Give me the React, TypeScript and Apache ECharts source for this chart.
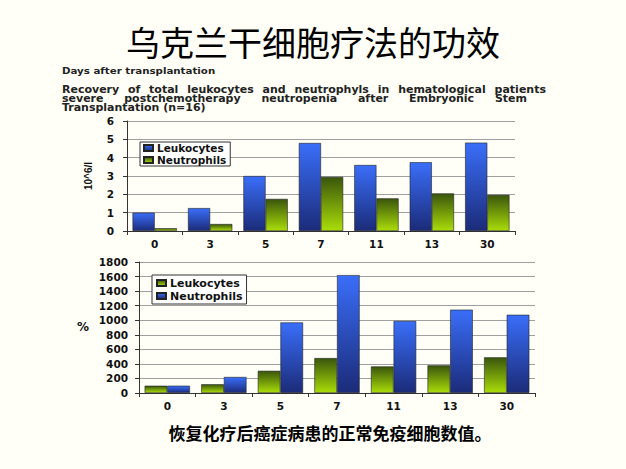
import React, { useEffect, useRef } from "react";
import * as echarts from "echarts";

const days = ["0", "3", "5", "7", "11", "13", "30"];
const topLeukocytes = [1.0, 1.25, 3.0, 4.8, 3.6, 3.75, 4.82];
const topNeutrophils = [0.15, 0.38, 1.75, 2.95, 1.78, 2.05, 1.97];
const pctLeukocytes = [100, 120, 305, 480, 365, 380, 490];
const pctNeutrophils = [100, 220, 970, 1620, 990, 1145, 1075];

const paraLine1 = ["Recovery", "of", "total", "leukocytes", "and", "neutrophyls", "in", "hematological", "patients"];
const paraLine2 = ["severe", "postchemotherapy", "neutropenia", "after", "Embryonic", "Stem"];
const paraLine3 = "Transplantation (n=16)";

const blueGrad = () =>
  new echarts.graphic.LinearGradient(0, 0, 0, 1, [
    { offset: 0, color: "#3a6ef9" },
    { offset: 1, color: "#1b2b78" },
  ]);
const greenGrad = () =>
  new echarts.graphic.LinearGradient(0, 0, 0, 1, [
    { offset: 0, color: "#3a560c" },
    { offset: 1, color: "#aadd08" },
  ]);

const axisFont = { fontFamily: "DejaVu Sans", fontWeight: "bold" as const, fontSize: 10.5, color: "#111" };
const PARA_SIZE = 10;
const PARA_SCALE = 1.1;

export default function App() {
  const ref = useRef<HTMLDivElement>(null);
  useEffect(() => {
    document.body.style.margin = "0";
    const chart = echarts.init(ref.current!, null, { renderer: "svg" });
    const ctx = document.createElement("canvas").getContext("2d")!;
    ctx.font = `bold ${PARA_SIZE}px 'DejaVu Sans'`;
    const paraText = (t: string, x: number, y: number) => ({
      type: "text",
      x,
      y,
      scaleX: PARA_SCALE,
      style: { text: t, fontFamily: "DejaVu Sans", fontWeight: "bold", fontSize: PARA_SIZE, fill: "#222", verticalAlign: "middle" },
    });
    // justified line: words spread evenly between x0 and x1
    const justify = (words: string[], x0: number, x1: number, y: number) => {
      const widths = words.map((w) => ctx.measureText(w).width * PARA_SCALE);
      const total = widths.reduce((a, b) => a + b, 0);
      const gap = (x1 - x0 - total) / (words.length - 1);
      let x = x0;
      return words.map((w, i) => {
        const el = paraText(w, x, y);
        x += widths[i] + gap;
        return el;
      });
    };
    const xAxisBase = {
      type: "category",
      data: days,
      axisLine: { lineStyle: { color: "#333" } },
      axisTick: { show: true, length: 4, lineStyle: { color: "#333" } },
      axisLabel: { ...axisFont, margin: 7 },
    };
    const yAxisBase = {
      type: "value",
      axisLine: { show: true, lineStyle: { color: "#333" } },
      axisTick: { show: true, length: 4, lineStyle: { color: "#333" } },
      splitLine: { lineStyle: { color: "#a0a0a0" } },
    };
    const barStyle = (c: any) => ({ color: c, borderColor: "#222", borderWidth: 0.6 });
    const legendBase = {
      orient: "vertical",
      backgroundColor: "#fff",
      borderColor: "#333",
      borderWidth: 1,
      borderRadius: 0,
      itemWidth: 9,
      itemHeight: 6,
      icon: "rect",
      selectedMode: false,
    };
    chart.setOption({
      animation: false,
      backgroundColor: "#fffff7",
      grid: [
        { left: 127, width: 388, top: 121, height: 110 },
        { left: 139, width: 396, top: 262, height: 131 },
      ],
      xAxis: [
        { ...xAxisBase, gridIndex: 0 },
        { ...xAxisBase, gridIndex: 1 },
      ],
      yAxis: [
        { ...yAxisBase, gridIndex: 0, min: 0, max: 6, interval: 1, axisLabel: { ...axisFont, margin: 13 } },
        {
          ...yAxisBase,
          gridIndex: 1,
          min: 0,
          max: 1800,
          interval: 200,
          axisLabel: { ...axisFont, margin: 11, formatter: (v: number) => String(v) },
        },
      ],
      legend: [
        {
          ...legendBase,
          left: 140,
          top: 142,
          padding: [0, 4, 0, 3],
          itemGap: 0,
          data: ["Leukocytes", "Neutrophils"],
          textStyle: { fontFamily: "DejaVu Sans", fontWeight: "bold", fontSize: 10.5, lineHeight: 12, color: "#111", padding: [0, 0, 0, -1] },
        },
        {
          ...legendBase,
          left: 152,
          top: 275,
          padding: [2, 4, 2, 4],
          itemGap: 1,
          data: ["Leukocytes (%)", "Neutrophils (%)"],
          formatter: (n: string) => n.replace(" (%)", ""),
          textStyle: { fontFamily: "DejaVu Sans", fontWeight: "bold", fontSize: 11, lineHeight: 12, color: "#111", padding: [0, 0, 0, -1] },
        },
      ],
      series: [
        { type: "bar", name: "Leukocytes", xAxisIndex: 0, yAxisIndex: 0, data: topLeukocytes, itemStyle: barStyle(blueGrad()), barGap: "0%", barCategoryGap: "20%" },
        { type: "bar", name: "Neutrophils", xAxisIndex: 0, yAxisIndex: 0, data: topNeutrophils, itemStyle: barStyle(greenGrad()), barGap: "0%", barCategoryGap: "20%" },
        { type: "bar", name: "Leukocytes (%)", xAxisIndex: 1, yAxisIndex: 1, data: pctLeukocytes, itemStyle: barStyle(greenGrad()), barGap: "0%", barCategoryGap: "20%" },
        { type: "bar", name: "Neutrophils (%)", xAxisIndex: 1, yAxisIndex: 1, data: pctNeutrophils, itemStyle: barStyle(blueGrad()), barGap: "0%", barCategoryGap: "20%" },
      ],
      graphic: [
        {
          type: "text",
          left: "center",
          top: 24,
          style: { text: "乌克兰干细胞疗法的功效", fontFamily: "Noto Sans CJK SC", fontSize: 34, fill: "#000" },
        },
        {
          type: "text",
          x: 62,
          y: 71,
          scaleX: 1.08,
          style: { text: "Days after transplantation", fontFamily: "DejaVu Sans", fontWeight: "bold", fontSize: 9.5, fill: "#222", verticalAlign: "middle" },
        },
        ...justify(paraLine1, 62, 546, 89),
        ...justify(paraLine2, 62, 527, 98),
        paraText(paraLine3, 62, 107),
        {
          type: "text",
          x: 88,
          y: 176,
          rotation: Math.PI / 2,
          style: { text: "10^6/l", fontFamily: "Liberation Sans", fontWeight: "bold", fontSize: 10, fill: "#111", align: "center", verticalAlign: "middle" },
        },
        {
          type: "text",
          x: 83,
          y: 327,
          style: { text: "%", fontFamily: "DejaVu Sans", fontWeight: "bold", fontSize: 12, fill: "#111", align: "center", verticalAlign: "middle" },
        },
        {
          type: "text",
          x: 330,
          y: 432,
          style: { text: "恢复化疗后癌症病患的正常免疫细胞数值。", fontFamily: "Noto Sans CJK SC", fontWeight: "bold", fontSize: 17, fill: "#000", align: "center", verticalAlign: "middle" },
        },
      ],
    });
    return () => chart.dispose();
  }, []);
  return <div ref={ref} style={{ position: "fixed", left: 0, top: 0, width: 626, height: 469 }} />;
}
